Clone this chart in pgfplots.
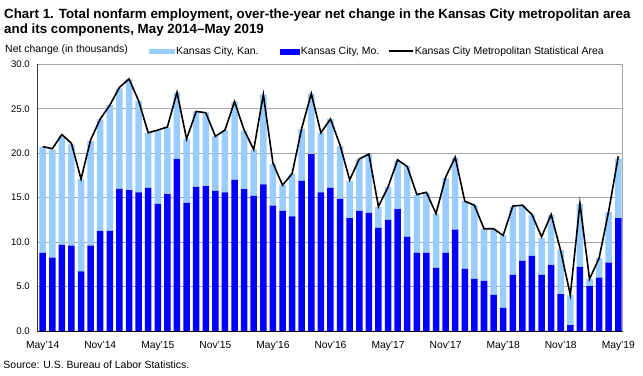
\documentclass[border=0pt]{standalone}
\usepackage{fontspec}
\setmainfont{Liberation Sans}
\usepackage{pgfplots}
\pgfplotsset{compat=1.18}
\usepackage{pgfplotstable}
\definecolor{kan}{HTML}{99CCFF}
\definecolor{mo}{HTML}{0000FF}
\definecolor{gridgray}{HTML}{A6A6A6}

\pgfplotstableread{
x mo kan msa
0 8.8 11.9 20.75
1 8.25 12.15 20.5
2 9.7 12.2 22.1
3 9.6 11.4 21.1
4 6.7 10.4 17.1
5 9.6 11.8 21.5
6 11.25 12.55 23.85
7 11.25 14.15 25.4
8 16.0 11.3 27.4
9 15.85 12.45 28.35
10 15.6 10.3 25.9
11 16.1 6.2 22.3
12 14.3 8.2 22.6
13 15.4 7.5 22.95
14 19.35 7.45 26.85
15 14.4 7.2 21.6
16 16.2 8.5 24.7
17 16.3 8.3 24.55
18 15.75 6.15 21.9
19 15.6 7.0 22.6
20 17.0 8.8 25.8
21 15.95 6.55 22.6
22 15.2 5.2 20.4
23 16.5 10.1 26.6
24 14.1 4.7 18.9
25 13.5 2.9 16.4
26 12.9 4.8 17.7
27 16.9 5.8 22.8
28 19.9 6.8 26.7
29 15.6 6.7 22.3
30 16.1 7.75 23.85
31 14.85 5.95 20.9
32 12.7 4.2 17.0
33 13.5 5.85 19.35
34 13.3 6.6 19.9
35 11.6 2.35 14.0
36 12.5 3.7 16.2
37 13.7 5.5 19.25
38 10.6 8.0 18.5
39 8.8 6.5 15.35
40 8.8 6.75 15.6
41 7.1 6.1 13.2
42 8.8 8.4 17.3
43 11.4 8.1 19.55
44 7.0 7.6 14.6
45 5.85 8.3 14.15
46 5.65 5.85 11.5
47 4.05 7.35 11.5
48 2.6 8.15 10.75
49 6.3 7.7 14.05
50 7.9 6.2 14.15
51 8.45 4.65 13.1
52 6.3 4.15 10.6
53 7.4 5.65 13.1
54 4.15 4.95 9.0
55 0.65 3.4 4.05
56 7.2 7.1 14.35
57 5.05 0.8 5.85
58 6.0 2.2 8.2
59 7.7 5.7 13.5
60 12.7 6.7 19.65
}\data

\pgfplotsset{
  common/.style={
    at={(37.3bp,44bp)}, anchor=south west,
    width=585.4bp, height=266.7bp, scale only axis,
    xmin=-0.56, xmax=60.46, ymin=0, ymax=30,
  }
}

\begin{document}
\begin{tikzpicture}[x=1bp,y=1bp]
\useasboundingbox (0,0) rectangle (643,375);
\begin{axis}[
  common,
  ybar stacked, bar width=0.68,
  ytick={0,5,...,30},
  yticklabel style={/pgf/number format/fixed, /pgf/number format/fixed zerofill, /pgf/number format/precision=1, xshift=-4bp, font=\fontsize{9.6}{11}\selectfont},
  /pgf/number format/assume math mode=true,
  ymajorgrids, grid style={gridgray, line width=0.7bp},
  xtick={0,6,...,60},
  xticklabels={May'14,Nov'14,May'15,Nov'15,May'16,Nov'16,May'17,Nov'17,May'18,Nov'18,May'19},
  major tick length=0pt,
  xticklabel style={anchor=base, yshift=-17.3bp, font=\fontsize{10.3}{12}\selectfont},
  axis line style={gridgray, line width=0.7bp},
]
\addplot[fill=mo, draw=none] table[x=x, y=mo] {\data};
\addplot[fill=kan, draw=none] table[x=x, y=kan] {\data};
\draw[black, line width=0.8bp] (rel axis cs:0,1) -- (rel axis cs:0,0) -- (rel axis cs:1,0);
\end{axis}
\begin{axis}[
  common, hide axis,
  legend columns=3,
  legend style={draw=none, fill=none, inner sep=0pt, outer sep=0pt,
    at={(axis description cs:0.1913,1.0488)}, anchor=west,
    font=\fontsize{10.5}{12}\selectfont,
    nodes={inner xsep=1.5bp, inner ysep=0pt},
    /tikz/column 2/.style={column sep=20bp},
    /tikz/column 4/.style={column sep=7bp}},
  legend cell align=left,
]
\addlegendimage{legend image code/.code={\fill[kan] (0bp,-2bp) rectangle (25bp,2bp);}}
\addlegendentry{Kansas City, Kan.}
\addlegendimage{legend image code/.code={\fill[mo] (0bp,-2.5bp) rectangle (19bp,2.5bp);}}
\addlegendentry{Kansas City, Mo.}
\addplot[black, line width=1.6bp, no markers, sharp plot,
  legend image code/.code={\draw[black, line width=1.6bp] (0bp,0bp) -- (24bp,0bp);}]
  table[x=x, y=msa] {\data};
\addlegendentry{Kansas City Metropolitan Statistical Area}
\end{axis}
\node[anchor=base west, font=\fontsize{13.4}{15}\selectfont\bfseries, inner sep=0pt]
  at (4,356.7) {Chart 1. Total nonfarm employment, over-the-year net change in the Kansas City metropolitan area};
\node[anchor=base west, font=\fontsize{13.4}{15}\selectfont\bfseries, inner sep=0pt]
  at (4,341.7) {and its components, May 2014–May 2019};
\node[anchor=base west, font=\fontsize{10.5}{12}\selectfont, inner sep=0pt] at (5,322.3) {Net change (in thousands)};
\node[anchor=base west, font=\fontsize{10.5}{12}\selectfont, inner sep=0pt] at (3.3,6.7) {Source: U.S. Bureau of Labor Statistics.};
\end{tikzpicture}
\end{document}
